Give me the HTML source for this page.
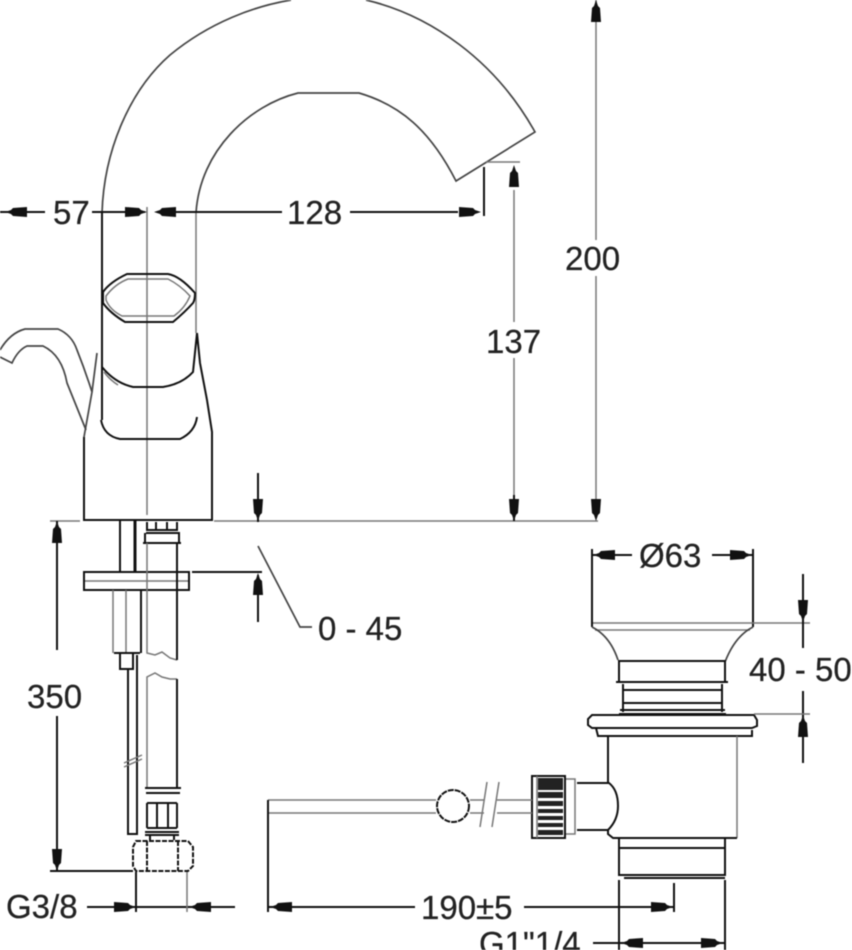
<!DOCTYPE html>
<html><head><meta charset="utf-8"><style>
html,body{margin:0;padding:0;background:#fff;width:852px;height:950px;overflow:hidden}
svg{display:block;filter:blur(.4px)}
text{font-family:"Liberation Sans",sans-serif;font-size:33px;fill:#222;stroke:#222;stroke-width:.25}
.d{stroke:#111;stroke-width:2;fill:none}
.g{stroke:#444;stroke-width:1.7;fill:none}
.t{stroke:#777;stroke-width:1.5;fill:none}
</style></head><body>
<svg width="852" height="950" viewBox="0 0 852 950" xmlns="http://www.w3.org/2000/svg">
<defs><path id="a" d="M0,0L-6,-2L-8,-4L-22,-5L-22,5L-8,4L-6,2Z" fill="#111"/></defs>

<!-- spout -->
<path class="g" d="M102,213C104,150 130,90 170,55C210,22 255,6 291,0M366,0C430,15 495,60 535,132L456,181C430,130 400,105 359,93H298C250,105 200,150 196,213"/>
<path class="d" d="M102,213V420"/><path class="t" d="M196,213V333M147,207V515"/>

<!-- handle -->
<path class="d" d="M103,292Q110,282 127,274H168Q180,276 195,293Q195,300 193,303Q185,312 173,322H125Q110,313 103,303Z"/>
<path class="t" d="M106,296Q115,284 128,279H168Q180,285 190,296Q185,308 174,316H122Q110,310 106,300Z"/>
<path class="d" d="M102,367Q115,383 133,387H163Q182,384 193,372L197,333"/>
<path class="t" d="M104,372Q110,380 118,385"/>
<path class="d" d="M101,420Q104,436 120,439H180Q195,432 197,417"/>

<!-- lever -->
<path class="g" d="M0,350Q10,333 25,329H58Q72,335 77,350Q85,370 92,392M86,430L67,383Q62,355 43,346H27Q18,350 12,363L0,357"/>

<!-- base -->
<path class="d" d="M84,437V520H212V432L207,400L200,363L197,333"/>
<path class="g" d="M84,437L92,392L97,353"/>
<path class="t" d="M598,521H214M80,521H50"/>

<!-- left dims top -->
<path class="d" d="M0,212H45M92,212H145M176,212H282M350,212H458"/>
<path class="d" d="M484,167V216"/><path class="t" d="M486,162H520"/>
<use href="#a" transform="translate(5,212) rotate(180)"/>
<use href="#a" transform="translate(147,212)"/>
<use href="#a" transform="translate(154,212) rotate(180)"/>
<use href="#a" transform="translate(481,212)"/>
<text x="53" y="224">57</text>
<text x="287" y="224">128</text>

<!-- 137 -->
<path class="t" d="M514,190V322M514,358V495"/>
<path class="d" d="M514,495V521"/>
<use href="#a" transform="translate(514,165) rotate(-90)"/>
<use href="#a" transform="translate(514,521) rotate(90)"/>
<text x="486" y="353">137</text>

<!-- 200 -->
<path class="t" d="M596,0V240M596,276V500"/>
<use href="#a" transform="translate(596,0) rotate(-90)"/>
<use href="#a" transform="translate(596,521) rotate(90)"/>
<text x="565" y="270">200</text>

<!-- 0-45 -->
<path class="d" d="M258,473V522M258,575V622M192,572H262"/>
<path class="g" d="M258,546L300,627H312"/>
<use href="#a" transform="translate(258,521) rotate(90)"/>
<use href="#a" transform="translate(258,573) rotate(-90)"/>
<text x="318" y="640">0 - 45</text>

<!-- under-counter -->
<path class="d" d="M120,521V572"/><path class="d" style="stroke-width:3" d="M135,521V572"/>
<rect class="d" x="84" y="572" width="105" height="18"/><path class="t" d="M85,581H188"/>
<path class="t" d="M113,590V653M126,590V653"/><path class="d" d="M141,590V653"/>
<path class="d" d="M114,653H140"/><rect class="d" x="120" y="653" width="13" height="16"/>
<path class="d" d="M128,669V834H137V655"/>
<path class="t" d="M124,763L142,755M124,767L142,759"/>

<!-- hose -->
<path class="d" d="M147,522V530H177V522M156,522V530M167,522V530"/>
<path class="d" d="M146,533H180M143,543H181M145,533V543M179,533V543"/>
<path class="t" d="M147,543V653L155,655L162,652L170,658L177,660"/><path class="d" d="M177,543V660"/>
<path class="t" d="M147,787V677L155,673L162,677L170,679H177"/><path class="d" d="M177,679V787"/>
<path class="d" d="M145,788H181M146,793H180"/>
<path class="d" d="M147,803V828M157,803V828M168,803V828M177,803V828M147,803H177M147,828H177M145,832H179M145,835H179M150,835V840M174,835V840"/>
<path class="d" stroke-dasharray="5 1.5" d="M136,841H188L193,847V866L188,871H136L133,866V847ZM147,841V871M178,841V871"/>

<!-- 350 -->
<path class="d" d="M57,521V650M57,716V871M50,871H133"/>
<use href="#a" transform="translate(57,521) rotate(-90)"/>
<use href="#a" transform="translate(57,871) rotate(90)"/>
<text x="27" y="708">350</text>

<!-- G3/8 -->
<path class="d" d="M87,907H235M136,872V912"/><path class="t" d="M187,872V912"/>
<use href="#a" transform="translate(136,907)"/>
<use href="#a" transform="translate(189,907) rotate(180)"/>
<text x="6" y="918">G3/8</text>

<!-- drain cap -->
<path class="d" d="M592,549V627M753,549V627"/>
<path class="d" d="M593,555H632M712,555H753"/>
<use href="#a" transform="translate(593,555) rotate(180)"/>
<use href="#a" transform="translate(752,555)"/>
<text x="639" y="567">Ø63</text>
<path class="t" d="M593,623H810M595,630H750"/>
<path class="g" d="M592,627Q610,636 618,660M753,627Q735,636 725,662"/>
<rect class="d" x="619" y="661" width="106" height="21"/>
<path class="d" d="M616,682H728M623,684V712M722,684V712M623,690H722M623,703H722M620,710H725M619,714H726"/>
<path class="d" d="M592,715H754L757,720V726L752,728H592L588,725V719ZM596,728L598,736H752V730"/>
<path class="d" d="M608,736V783"/><path class="t" d="M737,736V838"/>
<path class="d" d="M608,830V834L613,838H737"/>
<path class="d" d="M577,783H609Q618,790 618,806Q618,820 608,830H577"/>
<path class="t" d="M565,779H575V834H565"/>
<rect class="d" x="532" y="776" width="33" height="62"/>
<path class="t" d="M537,776V838"/>
<path d="M538,778H563V790H538ZM538,792H563V798H538ZM538,801H563V806H538ZM538,809H563V813H538ZM538,816H563V820H538ZM538,823H563V827H538ZM538,830H563V835H538Z" fill="#222"/>
<path class="d" d="M619,838V875H725V838M619,848H725M624,878H725"/>
<path class="d" d="M619,880V950M725,880V950"/>

<!-- rod -->
<path class="t" d="M268,800H436M268,813H436M470,800H484M470,813H484M497,800H532M497,813H532"/>
<circle class="d" cx="453" cy="806" r="16" stroke-dasharray="6 1"/>
<path class="t" d="M487,782L480,827M499,782L492,827"/>

<!-- 190±5 -->
<path class="d" d="M268,800V912M674,883V912M268,907H415M524,907H674"/>
<use href="#a" transform="translate(270,907) rotate(180)"/>
<use href="#a" transform="translate(673,907)"/>
<text x="421" y="919">190±5</text>

<!-- 40-50 -->
<path class="d" d="M803,574V648M803,691V763"/>
<path class="t" d="M754,714H810"/>
<use href="#a" transform="translate(803,622) rotate(90)"/>
<use href="#a" transform="translate(803,715) rotate(-90)"/>
<text x="749" y="681">40 - 50</text>

<!-- G1"1/4 -->
<path class="d" d="M593,943H725"/>
<use href="#a" transform="translate(621,943) rotate(180)"/>
<use href="#a" transform="translate(723,943)"/>
<text x="479" y="955">G1"1/4</text>
</svg>
</body></html>
